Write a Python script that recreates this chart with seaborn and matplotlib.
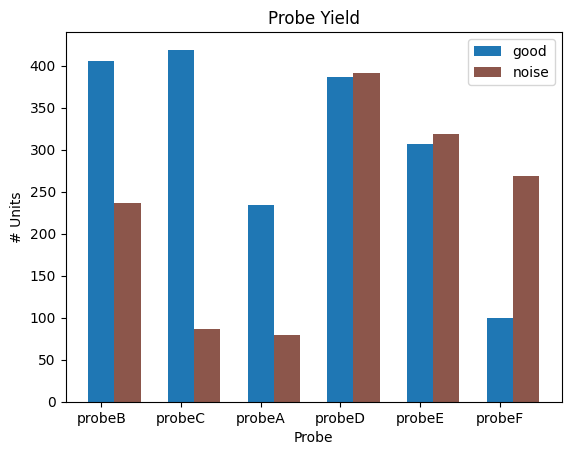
import numpy as np
import pandas as pd
import matplotlib
matplotlib.use("Agg")
import matplotlib.pyplot as plt
import seaborn as sns

# Units per probe
probes = ['probeB', 'probeC', 'probeA', 'probeD', 'probeE', 'probeF']
good_units = [405, 419, 234, 386, 307, 100]
noise_units = [236, 87, 79, 391, 319, 269]
labels = ['good', 'noise']
colors = ['#1f77b4', '#8c564b']

df = pd.DataFrame({
    'Probe': probes * 2,
    'label': ['good'] * len(probes) + ['noise'] * len(probes),
    'units': good_units + noise_units,
})

fig, ax = plt.subplots(figsize=(6.4, 4.8), dpi=100)

bar_w = 0.33
sns.barplot(data=df, x='Probe', y='units', hue='label', hue_order=labels,
            order=probes, palette=colors, width=2 * bar_w, saturation=1,
            errorbar=None, linewidth=0, ax=ax)

# ticks sit under the "good" bar, like a plain offset bar chart
n = len(probes)
pos = np.arange(n)
ax.set_xticks(pos - bar_w / 2, probes)
pad = 0.05 * (n - 1 + 2 * bar_w)
ax.set_xlim(-bar_w - pad, n - 1 + bar_w + pad)

ax.set_title('Probe Yield')
ax.set_xlabel('Probe')
ax.set_ylabel('# Units')
ax.legend(loc='upper right')

plt.savefig('out.png', dpi=100, bbox_inches='tight')
plt.close()
